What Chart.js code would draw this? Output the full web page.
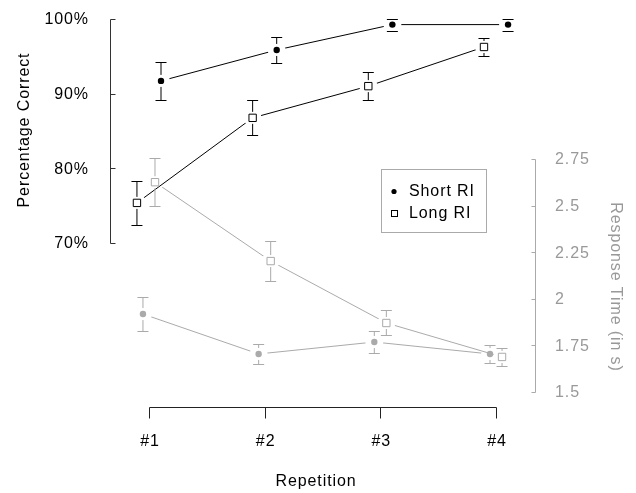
<!DOCTYPE html>
<html lang="en">
<head>
<meta charset="UTF-8">
<title>Percentage Correct and Response Time by Repetition</title>
<script src="https://cdn.jsdelivr.net/npm/chart.js"></script>
<style>
  html, body { margin: 0; padding: 0; background: #fff; }
  canvas { display: block; }
</style>
</head>
<body>
<canvas id="chart" width="636" height="493"></canvas>
<script>
// values
const repetitions = ['#1', '#2', '#3', '#4'];

// percentage correct (left axis)
const shortAcc    = [91.7, 95.85, 99.25, 99.25];
const shortAccErr = [2.5, 1.75, 0.8, 0.8];
const longAcc     = [75.35, 86.75, 91.0, 96.25];
const longAccErr  = [2.95, 2.35, 1.9, 1.27];

// response time in seconds (right axis)
const shortRT    = [1.918, 1.704, 1.768, 1.704];
const shortRTErr = [0.091, 0.054, 0.059, 0.048];
const longRT     = [2.625, 2.202, 1.87, 1.688];
const longRTErr  = [0.128, 0.105, 0.067, 0.046];

const accTicks = [70, 80, 90, 100];
const rtTicks  = [1.5, 1.75, 2, 2.25, 2.5, 2.75];

const BLACK = '#000';
const GREY = '#aaa';
const GREY_TEXT = '#999';
const FONT = '16px "Liberation Sans", Arial, sans-serif';
const GAP = 6;

const xs = repetitions.map((_, i) => i + 1);
const pts = (vals, shift) => vals.map((v, i) => ({ x: xs[i] + shift, y: v }));

// each series: values, errors, axis, small horizontal dodge, look
const series = [
  { label: 'Short RI', vals: shortAcc, err: shortAccErr, axis: 'yAcc', shift: 0.104, color: BLACK, style: 'circle' },
  { label: 'Long RI',  vals: longAcc,  err: longAccErr,  axis: 'yAcc', shift: -0.104, color: BLACK, style: 'rect' },
  { label: 'Short RI', vals: shortRT,  err: shortRTErr,  axis: 'yRT',  shift: -0.052, color: GREY, style: 'circle' },
  { label: 'Long RI',  vals: longRT,   err: longRTErr,   axis: 'yRT',  shift: 0.052, color: GREY, style: 'rect' }
];

const datasets = [];
series.forEach(s => {
  // connecting line, with gaps cut round the points
  datasets.push({
    data: pts(s.vals, s.shift),
    yAxisID: s.axis,
    borderColor: s.color,
    borderWidth: 1,
    pointRadius: 0,
    fill: false,
    tension: 0,
    clip: false,
    gap: 9,
    order: 2
  });
  // markers
  datasets.push({
    label: s.label,
    data: pts(s.vals, s.shift),
    yAxisID: s.axis,
    showLine: false,
    pointStyle: s.style,
    pointRadius: s.style === 'rect' ? 5.2 : 3.2,
    pointBackgroundColor: s.style === 'rect' ? '#fff' : s.color,
    pointBorderColor: s.color,
    pointBorderWidth: s.style === 'rect' ? 1 : 0,
    clip: false,
    order: 1
  });
});

// cut the line near its own points, like type="b" in R
const gapPlugin = {
  id: 'gaps',
  beforeDatasetDraw(chart, args) {
    const ds = chart.data.datasets[args.index];
    if (!ds.gap) return;
    const ctx = chart.ctx;
    ctx.save();
    ctx.beginPath();
    ctx.rect(0, 0, chart.width, chart.height);
    args.meta.data.forEach(p => {
      ctx.moveTo(p.x + ds.gap, p.y);
      ctx.arc(p.x, p.y, ds.gap, 0, Math.PI * 2);
    });
    ctx.clip('evenodd');
  },
  afterDatasetDraw(chart, args) {
    if (chart.data.datasets[args.index].gap) chart.ctx.restore();
  }
};

// error bars, axes, labels and legend
const axesPlugin = {
  id: 'axes',
  afterDatasetsDraw(chart) {
    const { ctx, scales, chartArea } = chart;
    const x = scales.x, yA = scales.yAcc, yR = scales.yRT;
    const r5 = v => Math.round(v) + 0.5;
    ctx.save();
    ctx.lineWidth = 1;
    ctx.font = FONT;
    ctx.letterSpacing = '0.9px';

    // error bars
    series.forEach(s => {
      const yS = scales[s.axis];
      ctx.strokeStyle = s.color;
      s.vals.forEach((v, i) => {
        const px = x.getPixelForValue(xs[i] + s.shift);
        const py = yS.getPixelForValue(v);
        ctx.beginPath();
        [v + s.err[i], v - s.err[i]].forEach(e => {
          const ey = r5(yS.getPixelForValue(e));
          ctx.moveTo(px - 5.5, ey);
          ctx.lineTo(px + 5.5, ey);
          const d = py - ey;
          if (Math.abs(d) > GAP + 1) {
            ctx.moveTo(px, ey);
            ctx.lineTo(px, py - Math.sign(d) * GAP);
          }
        });
        ctx.stroke();
      });
    });

    // left axis
    const lx = r5(chartArea.left);
    ctx.strokeStyle = '#333';
    ctx.beginPath();
    ctx.moveTo(lx, r5(yA.getPixelForValue(accTicks[0])));
    ctx.lineTo(lx, r5(yA.getPixelForValue(accTicks[accTicks.length - 1])));
    accTicks.forEach(t => {
      const ty = r5(yA.getPixelForValue(t));
      ctx.moveTo(lx, ty);
      ctx.lineTo(lx + 5, ty);
    });
    ctx.stroke();
    ctx.fillStyle = BLACK;
    ctx.textAlign = 'right';
    ctx.textBaseline = 'middle';
    accTicks.forEach(t => ctx.fillText(t + '%', 89, yA.getPixelForValue(t) + 1));
    ctx.save();
    ctx.translate(25, 130);
    ctx.rotate(-Math.PI / 2);
    ctx.textAlign = 'center';
    ctx.fillText('Percentage Correct', 0, 0);
    ctx.restore();

    // right axis
    const rx = r5(chartArea.right);
    ctx.strokeStyle = GREY;
    ctx.beginPath();
    ctx.moveTo(rx, r5(yR.getPixelForValue(rtTicks[0])));
    ctx.lineTo(rx, r5(yR.getPixelForValue(rtTicks[rtTicks.length - 1])));
    rtTicks.forEach(t => {
      const ty = r5(yR.getPixelForValue(t));
      ctx.moveTo(rx, ty);
      ctx.lineTo(rx - 4, ty);
    });
    ctx.stroke();
    ctx.fillStyle = GREY_TEXT;
    ctx.textAlign = 'left';
    rtTicks.forEach(t => ctx.fillText(String(t), 555, yR.getPixelForValue(t) + 1));
    ctx.save();
    ctx.translate(615, 287);
    ctx.rotate(Math.PI / 2);
    ctx.textAlign = 'center';
    ctx.fillText('Response Time (in s)', 0, 0);
    ctx.restore();

    // x axis
    const by = 407.5;
    ctx.strokeStyle = '#222';
    ctx.beginPath();
    ctx.moveTo(r5(x.getPixelForValue(xs[0])), by);
    ctx.lineTo(r5(x.getPixelForValue(xs[xs.length - 1])), by);
    xs.forEach(v => {
      const tx = r5(x.getPixelForValue(v));
      ctx.moveTo(tx, by);
      ctx.lineTo(tx, by + 11);
    });
    ctx.stroke();
    ctx.fillStyle = BLACK;
    ctx.textAlign = 'center';
    repetitions.forEach((lab, i) => ctx.fillText(lab, x.getPixelForValue(xs[i]) + 1, 442));
    ctx.fillText('Repetition', 316, 482);

    // legend
    ctx.strokeStyle = GREY;
    ctx.strokeRect(381.5, 169.5, 105, 63);
    ctx.fillStyle = BLACK;
    ctx.beginPath();
    ctx.arc(394, 191.5, 2.6, 0, Math.PI * 2);
    ctx.fill();
    ctx.strokeStyle = BLACK;
    ctx.strokeRect(391.5, 210.5, 6, 6);
    ctx.textAlign = 'left';
    ctx.fillText(series[0].label, 409, 192);
    ctx.fillText(series[1].label, 409, 214);

    ctx.restore();
  }
};

new Chart(document.getElementById('chart'), {
  type: 'line',
  data: { datasets: datasets },
  options: {
    responsive: false,
    animation: false,
    devicePixelRatio: 1,
    events: [],
    layout: { padding: { left: 110, right: 101, top: 19, bottom: 101 } },
    plugins: { legend: { display: false }, tooltip: { enabled: false } },
    scales: {
      x: { type: 'linear', min: 0.663, max: 4.337, display: false },
      yAcc: { type: 'linear', position: 'left', min: 50, max: 100, display: false },
      yRT: { type: 'linear', position: 'right', min: 1.5, max: 3.5, display: false }
    }
  },
  plugins: [gapPlugin, axesPlugin]
});
</script>
</body>
</html>
